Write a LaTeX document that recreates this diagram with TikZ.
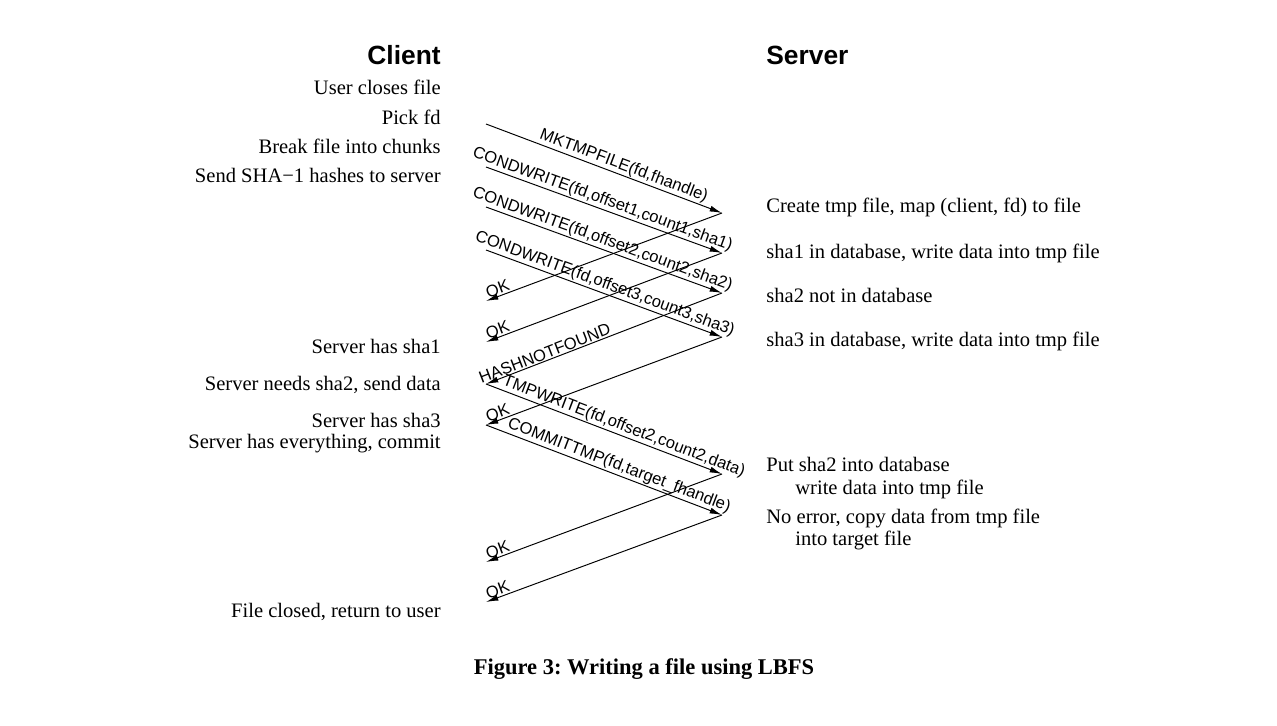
\documentclass[tikz,border=0pt]{standalone}
\usepackage{fontspec}
\setmainfont{Liberation Serif}
\setsansfont{Liberation Sans}
\usetikzlibrary{arrows.meta}

\tikzset{msg/.style={line width=0.55pt,-{Latex[length=7pt,width=3.4pt]}}}
\tikzset{msglabel/.style={sloped,above,inner sep=0.6pt,font=\sffamily\fontsize{9.4}{11}\selectfont}}
\tikzset{heading/.style={inner sep=0pt,font=\sffamily\bfseries\fontsize{15}{18}\selectfont}}
\tikzset{clientevt/.style={anchor=base east,inner sep=0pt,font=\fontsize{11.7}{14}\selectfont}}
\tikzset{serverevt/.style={anchor=base west,inner sep=0pt,font=\fontsize{11.7}{14}\selectfont}}

\begin{document}
\begin{tikzpicture}[x=0.02cm,y=-0.02cm]
        \useasboundingbox (0,0) rectangle (1277,726);
        % headings
        \node[heading,anchor=base east] (client) at (441,65) {Client};
        \node[heading,anchor=base west] (server) at (766,65) {Server};
        % client side events
        \node[clientevt] (close) at (441,95) {User closes file};
        \node[clientevt] (pick) at (441,125) {Pick fd};
        \node[clientevt] (chunks) at (441,154) {Break file into chunks};
        \node[clientevt] (hashes) at (441,183) {Send SHA−1 hashes to server};
        \node[clientevt] (has1) at (441,353) {Server has sha1};
        \node[clientevt] (needs2) at (441,390) {Server needs sha2, send data};
        \node[clientevt] (has3) at (441,427) {Server has sha3};
        \node[clientevt] (commit) at (441,448) {Server has everything, commit};
        \node[clientevt] (closed) at (441,617) {File closed, return to user};
        % server side events
        \node[serverevt] (create) at (766,213) {Create tmp file, map (client, fd) to file};
        \node[serverevt] (in1) at (766,258) {sha1 in database, write data into tmp file};
        \node[serverevt] (notin2) at (766,302) {sha2 not in database};
        \node[serverevt] (in3) at (766,346) {sha3 in database, write data into tmp file};
        \node[serverevt] (put2) at (766,471) {Put sha2 into database};
        \node[serverevt] (put2b) at (795,494) {write data into tmp file};
        \node[serverevt] (noerr) at (766,523) {No error, copy data from tmp file};
        \node[serverevt] (noerrb) at (795,545) {into target file};

        % message end points
        \coordinate (c0) at (486,124);
        \coordinate (c1) at (486,167);
        \coordinate (c2) at (486,207);
        \coordinate (c3) at (486,250);
        \coordinate (c4) at (486,301);
        \coordinate (c5) at (486,342);
        \coordinate (c6) at (486,384);
        \coordinate (c7) at (486,425);
        \coordinate (c8) at (486,562);
        \coordinate (c9) at (486,602);
        \coordinate (s0) at (722,213);
        \coordinate (s1) at (722,253);
        \coordinate (s2) at (722,293);
        \coordinate (s3) at (722,337);
        \coordinate (s4) at (722,474);
        \coordinate (s5) at (722,515);

        % requests
        \draw[msg] (c0) -- (s0) node[msglabel,pos=0.57] {MKTMPFILE(fd,fhandle)};
        \draw[msg] (c1) -- (s1) node[msglabel,pos=0.48] {CONDWRITE(fd,offset1,count1,sha1)};
        \draw[msg] (c2) -- (s2) node[msglabel,pos=0.48] {CONDWRITE(fd,offset2,count2,sha2)};
        \draw[msg] (c3) -- (s3) node[msglabel,pos=0.49] {CONDWRITE(fd,offset3,count3,sha3)};
        % replies
        \draw[msg] (s0) -- (c4) node[msglabel,pos=0.94] {OK};
        \draw[msg] (s1) -- (c5) node[msglabel,pos=0.94] {OK};
        \draw[msg] (s2) -- (c6) node[msglabel,pos=0.74] {HASHNOTFOUND};
        \draw[msg] (s3) -- (c7) node[msglabel,pos=0.94] {OK};
        % data and commit
        \draw[msg] (c6) -- (s4) node[msglabel,pos=0.57] {TMPWRITE(fd,offset2,count2,data)};
        \draw[msg] (c7) -- (s5) node[msglabel,pos=0.55] {COMMITTMP(fd,target\_fhandle)};
        \draw[msg] (s4) -- (c8) node[msglabel,pos=0.94] {OK};
        \draw[msg] (s5) -- (c9) node[msglabel,pos=0.94] {OK};

        % caption
        \node[anchor=base,inner sep=0pt,font=\bfseries\fontsize{12.8}{15}\selectfont] (caption) at (644,674) {Figure 3:\ Writing a file using LBFS};
\end{tikzpicture}
\end{document}
